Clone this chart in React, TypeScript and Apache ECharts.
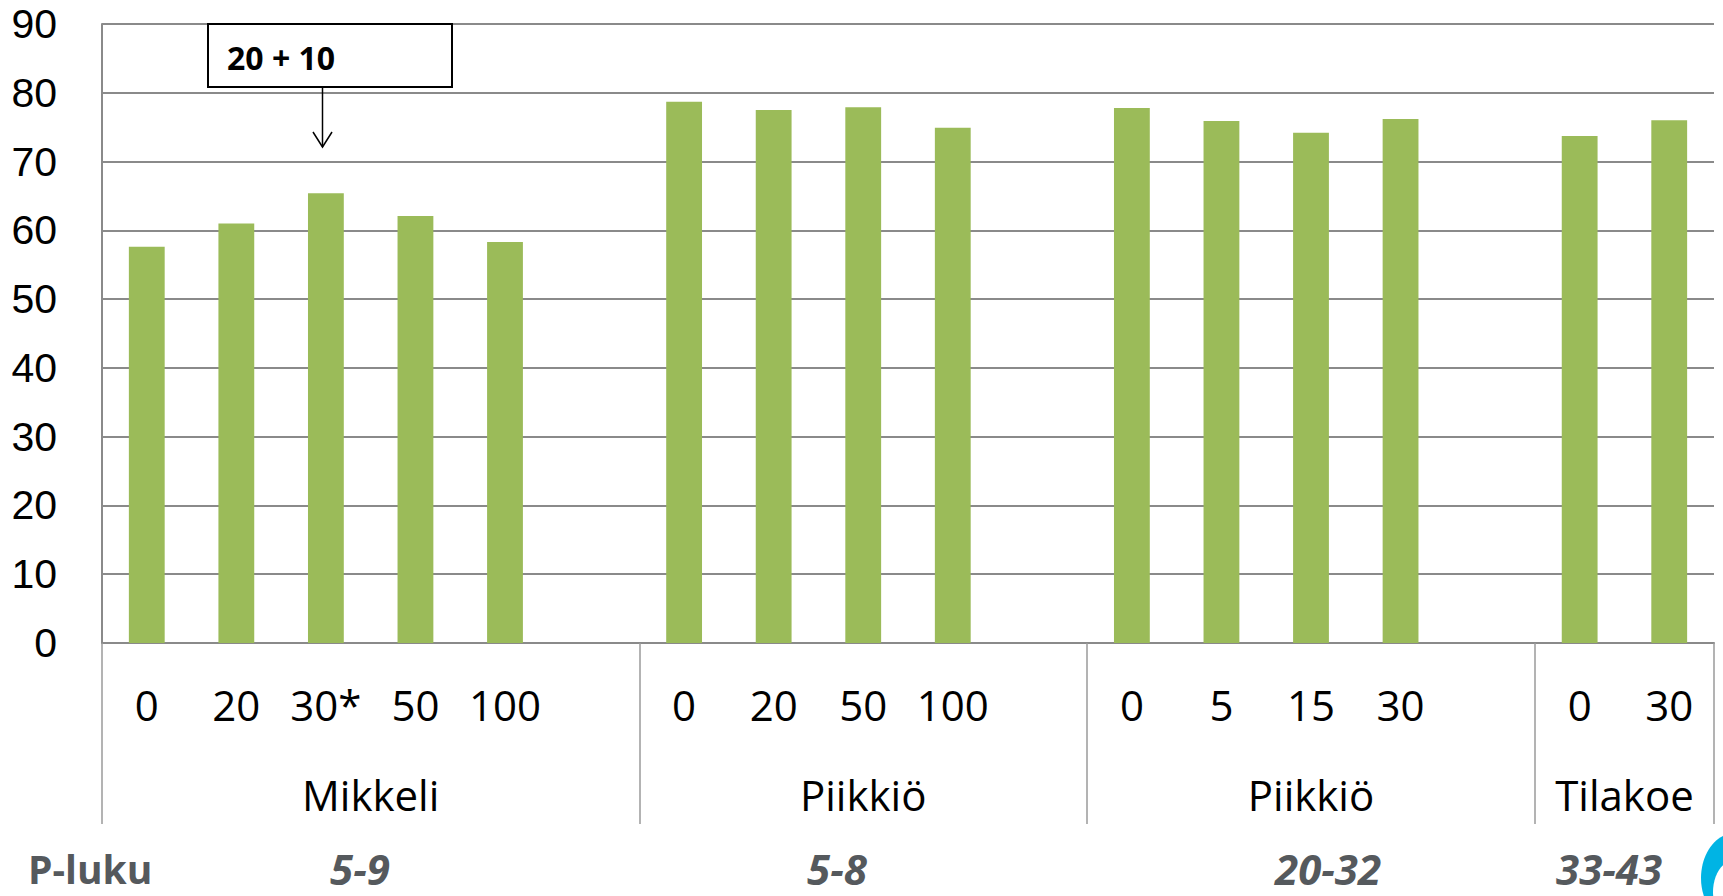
import React, { useEffect, useRef } from "react";
import * as echarts from "echarts";

// Groups of the category axis (trial site), their doses and the measured values
const groupNames = ["Mikkeli", "Piikkiö", "Piikkiö", "Tilakoe"];
const groupDoses = [
  ["0", "20", "30*", "50", "100"],
  ["0", "20", "50", "100"],
  ["0", "5", "15", "30"],
  ["0", "30"],
];
const groupValues = [
  [57.6, 61.0, 65.4, 62.1, 58.3],
  [78.7, 77.5, 77.9, 74.9],
  [77.8, 75.9, 74.2, 76.2],
  [73.7, 76.0],
];
// Soil P-number range of each site
const pRanges = ["5-9", "5-8", "20-32", "33-43"];
const yTicks = { min: 0, max: 90, interval: 10 };

const FONT = '"Open Sans", "Noto Sans", sans-serif';
const Y_FONT = '"Liberation Sans", Arial, sans-serif';
const GRID_COLOR = "#8a8a8a";
const BAR_COLOR = "#9BBB59";

export default function App() {
  const ref = useRef<HTMLDivElement>(null);

  useEffect(() => {
    if (!ref.current) return;
    const chart = echarts.init(ref.current, null, { renderer: "svg" });

    // Flatten groups into one category list, with an empty slot between groups
    const categories: string[] = [];
    const values: (number | null)[] = [];
    const groupStart: number[] = [];
    groupDoses.forEach((doses, g) => {
      groupStart.push(categories.length);
      doses.forEach((d, i) => {
        categories.push(d);
        values.push(groupValues[g][i]);
      });
      if (g < groupDoses.length - 1) {
        categories.push("");
        values.push(null);
      }
    });
    const total = categories.length;
    const groupEnd = groupStart.map((s, g) =>
      g < groupStart.length - 1 ? groupStart[g + 1] : total
    );

    // Secondary axis on half-category steps: boundaries and group centres
    const halfSlots: string[] = new Array(total * 2 + 1).fill("");
    const boundaryIdx = new Set<number>([0]);
    const centreIdx = new Set<number>();
    groupNames.forEach((name, g) => {
      const c = groupStart[g] + groupEnd[g];
      halfSlots[c] = name;
      centreIdx.add(c);
      boundaryIdx.add(groupEnd[g] * 2);
    });

    chart.setOption({
      animation: false,
      grid: { left: 102, right: 9, top: 24, bottom: 253, containLabel: false },
      xAxis: [
        {
          type: "category",
          data: categories,
          axisLine: { show: true, lineStyle: { color: GRID_COLOR, width: 2 } },
          axisTick: { show: false },
          axisLabel: {
            interval: 0,
            margin: 61,
            verticalAlign: "middle",
            color: "#000",
            fontFamily: FONT,
            fontSize: 42,
          },
        },
        {
          type: "category",
          position: "bottom",
          boundaryGap: false,
          data: halfSlots,
          axisLine: { show: false },
          axisTick: {
            show: true,
            interval: (i: number) => boundaryIdx.has(i),
            length: 181,
            lineStyle: { color: "#9a9a9a", width: 1.5 },
          },
          axisLabel: {
            interval: (i: number) => centreIdx.has(i),
            margin: 151,
            verticalAlign: "middle",
            color: "#000",
            fontFamily: FONT,
            fontSize: 42,
          },
          splitLine: { show: false },
        },
      ],
      yAxis: {
        type: "value",
        min: yTicks.min,
        max: yTicks.max,
        interval: yTicks.interval,
        axisLine: { show: true, lineStyle: { color: GRID_COLOR, width: 2 } },
        axisTick: { show: false },
        splitLine: { lineStyle: { color: GRID_COLOR, width: 2 } },
        axisLabel: {
          margin: 45,
          color: "#000",
          fontFamily: Y_FONT,
          fontSize: 41,
          lineHeight: 40,
          verticalAlign: "middle",
        },
      },
      series: [
        {
          type: "bar",
          xAxisIndex: 0,
          data: values,
          barWidth: "40%",
          itemStyle: { color: BAR_COLOR },
        },
      ],
    });

    // Annotation for the split dose and the P-number row
    const P_ROW_Y = 868;
    const pRowX = [330, 807, 1275, 1556];
    const pRowTexts = pRanges.map((r, g) => ({
      type: "text",
      x: pRowX[g],
      y: P_ROW_Y,
      style: {
        text: r,
        fill: "#55595d",
        font: `italic bold 42px ${FONT}`,
        lineHeight: 34,
        textVerticalAlign: "middle",
        verticalAlign: "middle",
      },
    }));

    chart.setOption({
      graphic: [
        {
          type: "rect",
          shape: { x: 208, y: 24, width: 244, height: 63 },
          style: { fill: "#fff", stroke: "#000", lineWidth: 2 },
        },
        {
          type: "text",
          x: 227,
          y: 57,
          style: {
            text: "20 + 10",
            fill: "#000",
            font: `bold 32px ${FONT}`,
            textVerticalAlign: "middle",
            verticalAlign: "middle",
          },
        },
        {
          type: "line",
          shape: { x1: 322.5, y1: 87, x2: 322.5, y2: 147 },
          style: { stroke: "#000", lineWidth: 1.5 },
        },
        {
          type: "polyline",
          shape: { points: [[313, 132], [322.5, 147], [332, 132]] },
          style: { stroke: "#000", lineWidth: 1.5, fill: null },
        },
        {
          type: "text",
          x: 28,
          y: P_ROW_Y,
          style: {
            text: "P-luku",
            fill: "#55595d",
            font: `bold 39px ${FONT}`,
            lineHeight: 34,
            textVerticalAlign: "middle",
            verticalAlign: "middle",
          },
        },
        ...pRowTexts,
        {
          type: "ellipse",
          shape: { cx: 1735, cy: 878, rx: 34, ry: 45 },
          style: { fill: "#00b4e4" },
        },
        {
          type: "ellipse",
          shape: { cx: 1735, cy: 892, rx: 22, ry: 32 },
          style: { fill: "#fff" },
        },
      ],
    });

    return () => chart.dispose();
  }, []);

  return (
    <div
      ref={ref}
      style={{ position: "fixed", left: 0, top: 0, width: 1723, height: 896, background: "#fff" }}
    />
  );
}
